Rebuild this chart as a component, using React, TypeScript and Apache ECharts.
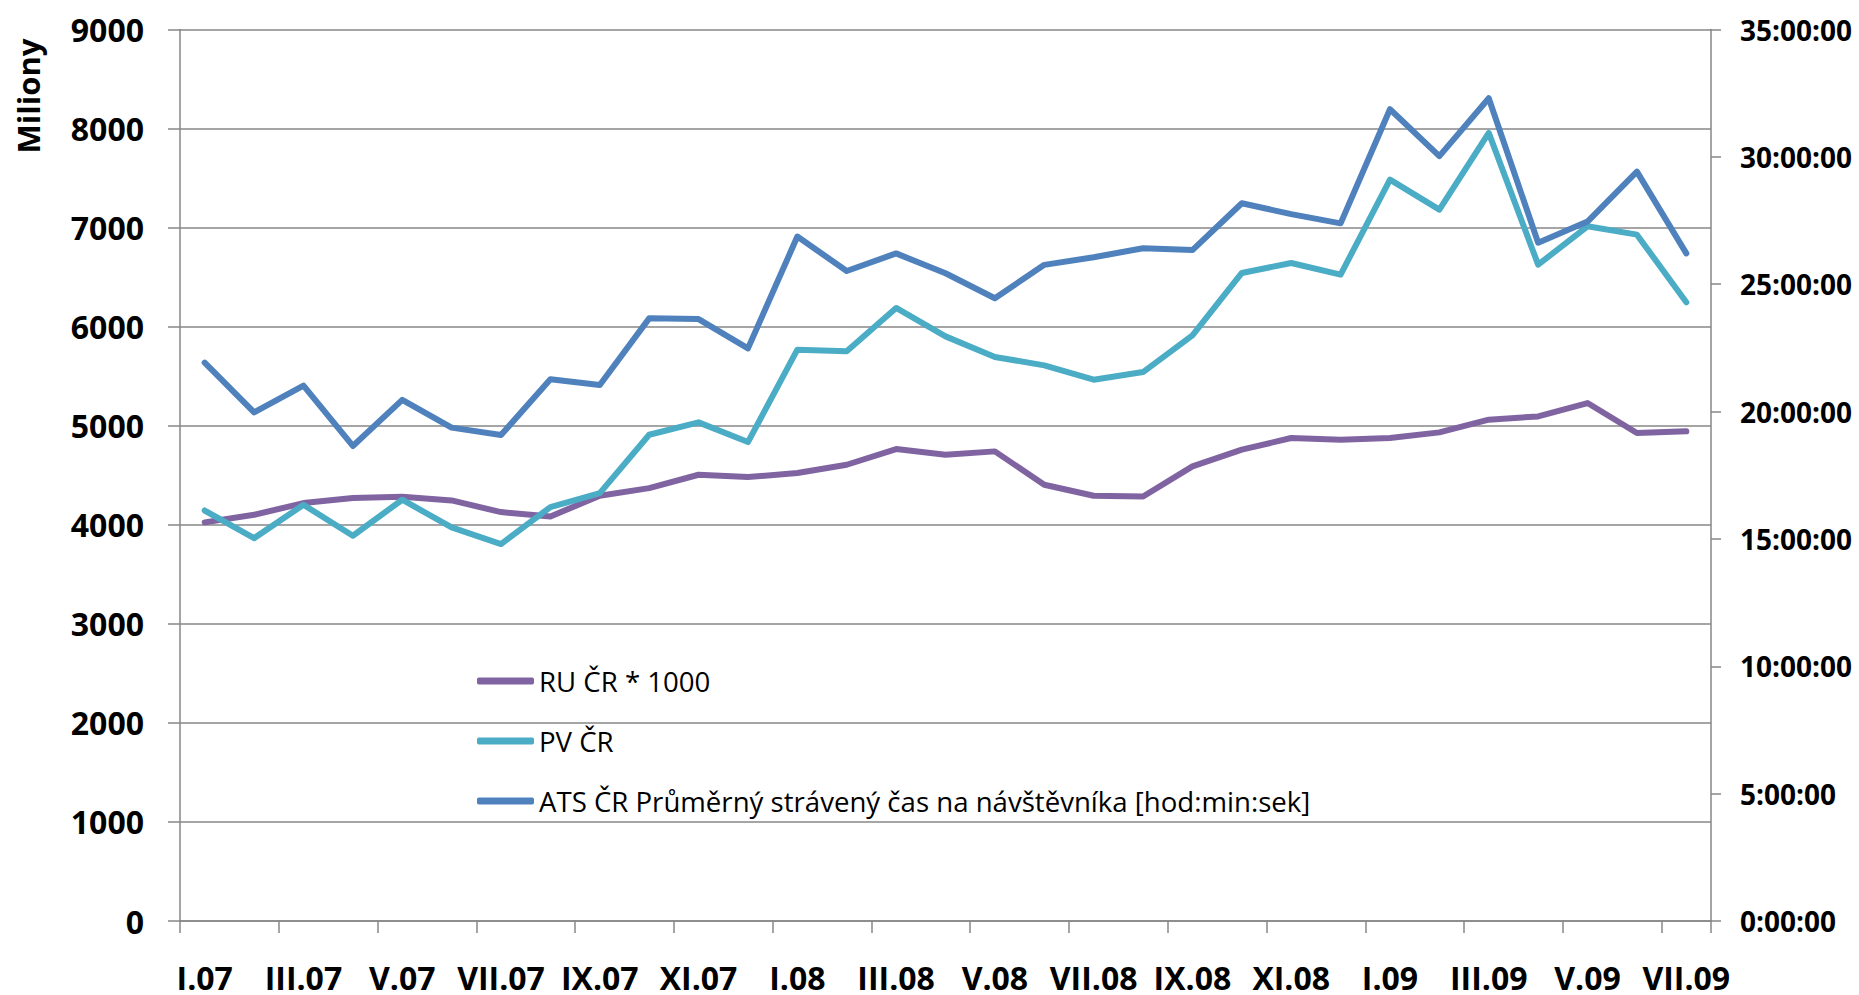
import React, { useEffect, useRef } from "react";
import * as echarts from "echarts";

const categories = [
  "I.07", "II.07", "III.07", "IV.07", "V.07", "VI.07", "VII.07", "VIII.07", "IX.07", "X.07", "XI.07", "XII.07",
  "I.08", "II.08", "III.08", "IV.08", "V.08", "VI.08", "VII.08", "VIII.08", "IX.08", "X.08", "XI.08", "XII.08",
  "I.09", "II.09", "III.09", "IV.09", "V.09", "VI.09", "VII.09",
];

const ruValues = [4024, 4101, 4219, 4270, 4283, 4246, 4128, 4084, 4293, 4370, 4505, 4482, 4522, 4606, 4764, 4707, 4741, 4404, 4293, 4286, 4589, 4758, 4876, 4859, 4876, 4933, 5061, 5094, 5229, 4926, 4943];
const pvValues = [4144, 3865, 4202, 3889, 4253, 3973, 3805, 4179, 4320, 4909, 5034, 4835, 5768, 5751, 6189, 5902, 5694, 5609, 5465, 5542, 5912, 6542, 6643, 6525, 7485, 7182, 7956, 6626, 7013, 6929, 6246];
// ATS in hours
const atsHours = [21.92, 19.97, 21.02, 18.65, 20.46, 19.37, 19.08, 21.27, 21.04, 23.66, 23.63, 22.48, 26.87, 25.52, 26.21, 25.43, 24.45, 25.76, 26.06, 26.41, 26.34, 28.18, 27.75, 27.39, 31.87, 30.03, 32.3, 26.63, 27.46, 29.42, 26.21];

const seriesNames = ["RU ČR * 1000", "PV ČR", "ATS ČR Průměrný strávený čas na návštěvníka [hod:min:sek]"];
const leftTicks = { min: 0, max: 9000, interval: 1000 };
const rightTicks = { min: 0, max: 35, interval: 5 };
const yAxisTitle = "Miliony";

const FONT = "'Open Sans', sans-serif";
const GRID_COLOR = "#878787";

export default function App() {
  const ref = useRef<HTMLDivElement>(null);
  useEffect(() => {
    if (!ref.current) return;
    const chart = echarts.init(ref.current, null, { renderer: "svg" });
    const lineBase = (color: string) => ({
      type: "line" as const,
      symbol: "none",
      smooth: false,
      lineStyle: { color, width: 6, cap: "round", join: "round" },
      itemStyle: { color },
    });
    chart.setOption({
      animation: false,
      backgroundColor: "#ffffff",
      textStyle: { fontFamily: FONT },
      grid: { left: 180, right: 148, top: 29.5, bottom: 74, containLabel: false },
      legend: {
        orient: "vertical",
        left: 472,
        top: 661,
        icon: "roundRect",
        itemWidth: 57,
        itemHeight: 7,
        itemGap: 30,
        textStyle: { fontFamily: FONT, fontSize: 27.6, color: "#000", lineHeight: 30 },
        data: seriesNames,
      },
      xAxis: {
        type: "category",
        data: categories,
        boundaryGap: true,
        axisLine: { show: true, lineStyle: { color: GRID_COLOR, width: 1.5 } },
        axisTick: { show: true, interval: 1, length: 12, lineStyle: { color: GRID_COLOR, width: 1.5 } },
        axisLabel: { interval: 1, margin: 40, fontFamily: FONT, fontSize: 32, fontWeight: "bold", color: "#000" },
        splitLine: { show: false },
      },
      yAxis: [
        {
          type: "value",
          min: leftTicks.min,
          max: leftTicks.max,
          interval: leftTicks.interval,
          axisLine: { show: true, lineStyle: { color: GRID_COLOR, width: 1.5 } },
          axisTick: { show: true, length: 12, lineStyle: { color: GRID_COLOR, width: 1.5 } },
          axisLabel: { margin: 36, fontFamily: FONT, fontSize: 32, fontWeight: "bold", color: "#000", formatter: (v: number) => String(v) },
          splitLine: { show: true, lineStyle: { color: GRID_COLOR, width: 1.5 } },
        },
        {
          type: "value",
          min: rightTicks.min,
          max: rightTicks.max,
          interval: rightTicks.interval,
          position: "right",
          axisLine: { show: true, lineStyle: { color: GRID_COLOR, width: 1.5 } },
          axisTick: { show: true, length: 10, lineStyle: { color: GRID_COLOR, width: 1.5 } },
          axisLabel: { margin: 29, fontFamily: FONT, fontSize: 28, fontWeight: "bold", color: "#000", formatter: (v: number) => `${v}:00:00` },
          splitLine: { show: false },
        },
      ],
      graphic: [
        {
          type: "text",
          x: 28,
          y: 96,
          rotation: Math.PI / 2,
          style: {
            text: yAxisTitle,
            fontFamily: FONT,
            fontSize: 31,
            fontWeight: "bold",
            fill: "#000",
            align: "center",
            verticalAlign: "middle",
          },
        },
      ],
      series: [
        { ...lineBase("#8064A2"), name: seriesNames[0], yAxisIndex: 0, data: ruValues },
        { ...lineBase("#4BACC6"), name: seriesNames[1], yAxisIndex: 0, data: pvValues },
        { ...lineBase("#4F81BD"), name: seriesNames[2], yAxisIndex: 1, data: atsHours },
      ],
    });
    return () => chart.dispose();
  }, []);
  return <div ref={ref} style={{ position: "absolute", left: 0, top: 0, width: 1859, height: 995 }} />;
}
